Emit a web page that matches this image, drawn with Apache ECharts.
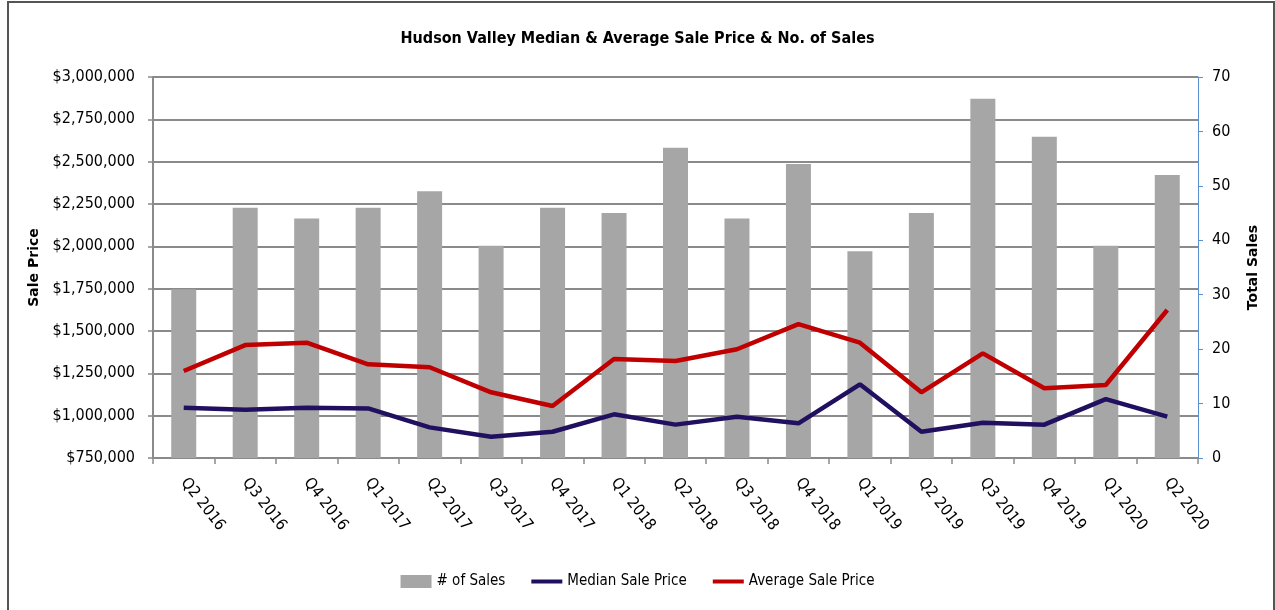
<!DOCTYPE html>
<html>
<head>
<meta charset="utf-8">
<script src="https://cdn.jsdelivr.net/npm/echarts@6/dist/echarts.min.js"></script>
<style>
  html, body { margin: 0; padding: 0; background: #fff; }
  #main { width: 1275px; height: 610px; }
</style>
</head>
<body>
<div id="main"></div>
<script>
var quarters = ["Q2 2016", "Q3 2016", "Q4 2016", "Q1 2017", "Q2 2017", "Q3 2017", "Q4 2017",
  "Q1 2018", "Q2 2018", "Q3 2018", "Q4 2018", "Q1 2019", "Q2 2019", "Q3 2019", "Q4 2019",
  "Q1 2020", "Q2 2020"];
var numSales = [31, 46, 44, 46, 49, 39, 46, 45, 57, 44, 54, 38, 45, 66, 59, 39, 52];
var medianPrice = [1047000, 1035000, 1047000, 1043000, 931000, 876000, 905000, 1008000,
  947000, 994000, 955000, 1185000, 905000, 958000, 947000, 1098000, 994000];
var averagePrice = [1264000, 1417000, 1431000, 1303000, 1286000, 1138000, 1057000, 1335000,
  1323000, 1392000, 1541000, 1431000, 1138000, 1368000, 1162000, 1181000, 1624000];

var narrow = '"DejaVu Sans Condensed", "Liberation Sans", sans-serif';
var gridGray = "#8a8a8a";
var lineIcon = "path://M0,0 L31,0 L31,4 L0,4 Z";

function money(v) {
  return "$" + v.toString().replace(/\B(?=(\d{3})+(?!\d))/g, ",");
}

var chart = echarts.init(document.getElementById("main"), null, { renderer: "canvas" });

var option = {
  backgroundColor: "#fff",
  animation: false,
  title: {
    text: "Hudson Valley Median & Average Sale Price & No. of Sales",
    left: "center",
    top: 26,
    textStyle: { fontFamily: narrow, fontSize: 16, fontWeight: "bold", color: "#000" }
  },
  graphic: [{
    type: "rect",
    shape: { x: 8, y: 2, width: 1266, height: 612 },
    style: { fill: null, stroke: "#555", lineWidth: 2 },
    silent: true
  }],
  grid: { left: 153, right: 77, top: 77, bottom: 152 },
  legend: {
    bottom: 16,
    left: "center",
    itemWidth: 31,
    itemHeight: 13,
    itemGap: 26,
    textStyle: { fontFamily: narrow, fontSize: 15, color: "#000" },
    data: [
      { name: "# of Sales", icon: "rect" },
      { name: "Median Sale Price", icon: lineIcon },
      { name: "Average Sale Price", icon: lineIcon }
    ]
  },
  xAxis: {
    type: "category",
    data: quarters,
    axisLine: { lineStyle: { color: gridGray, width: 2 } },
    axisTick: { show: true, length: 6, lineStyle: { color: gridGray, width: 1.5 } },
    axisLabel: {
      rotate: -52,
      margin: 22,
      fontFamily: narrow,
      fontSize: 16,
      color: "#000"
    }
  },
  yAxis: [
    {
      type: "value",
      name: "Sale Price",
      nameLocation: "middle",
      nameGap: 110,
      nameTextStyle: { fontFamily: '"DejaVu Sans", sans-serif', fontSize: 14, fontWeight: "bold", color: "#000" },
      min: 750000,
      max: 3000000,
      interval: 250000,
      axisLine: { show: true, lineStyle: { color: gridGray, width: 2 } },
      axisTick: { show: true, length: 5, lineStyle: { color: gridGray, width: 1.5 } },
      axisLabel: { formatter: money, margin: 18, fontFamily: narrow, fontSize: 16, color: "#000" },
      splitLine: { show: true, lineStyle: { color: gridGray, width: 2 } }
    },
    {
      type: "value",
      name: "Total Sales",
      nameLocation: "middle",
      nameGap: 48,
      nameTextStyle: { fontFamily: '"DejaVu Sans", sans-serif', fontSize: 14, fontWeight: "bold", color: "#000" },
      min: 0,
      max: 70,
      interval: 10,
      axisLine: { show: true, lineStyle: { color: "#5b8fd0", width: 1 } },
      axisTick: { show: true, length: 5, lineStyle: { color: "#5b8fd0", width: 1 } },
      axisLabel: { margin: 14, fontFamily: narrow, fontSize: 16, color: "#000" },
      splitLine: { show: false }
    }
  ],
  series: [
    {
      name: "# of Sales",
      type: "bar",
      yAxisIndex: 1,
      data: numSales,
      barWidth: 25,
      itemStyle: { color: "#a6a6a6" }
    },
    {
      name: "Median Sale Price",
      type: "line",
      yAxisIndex: 0,
      data: medianPrice,
      symbol: "none",
      lineStyle: { color: "#21105f", width: 4.5 },
      itemStyle: { color: "#21105f" }
    },
    {
      name: "Average Sale Price",
      type: "line",
      yAxisIndex: 0,
      data: averagePrice,
      symbol: "none",
      lineStyle: { color: "#c00000", width: 4.5 },
      itemStyle: { color: "#c00000" }
    }
  ]
};

chart.setOption(option);
window.addEventListener("resize", function () {
  chart.resize();
});
</script>
</body>
</html>
